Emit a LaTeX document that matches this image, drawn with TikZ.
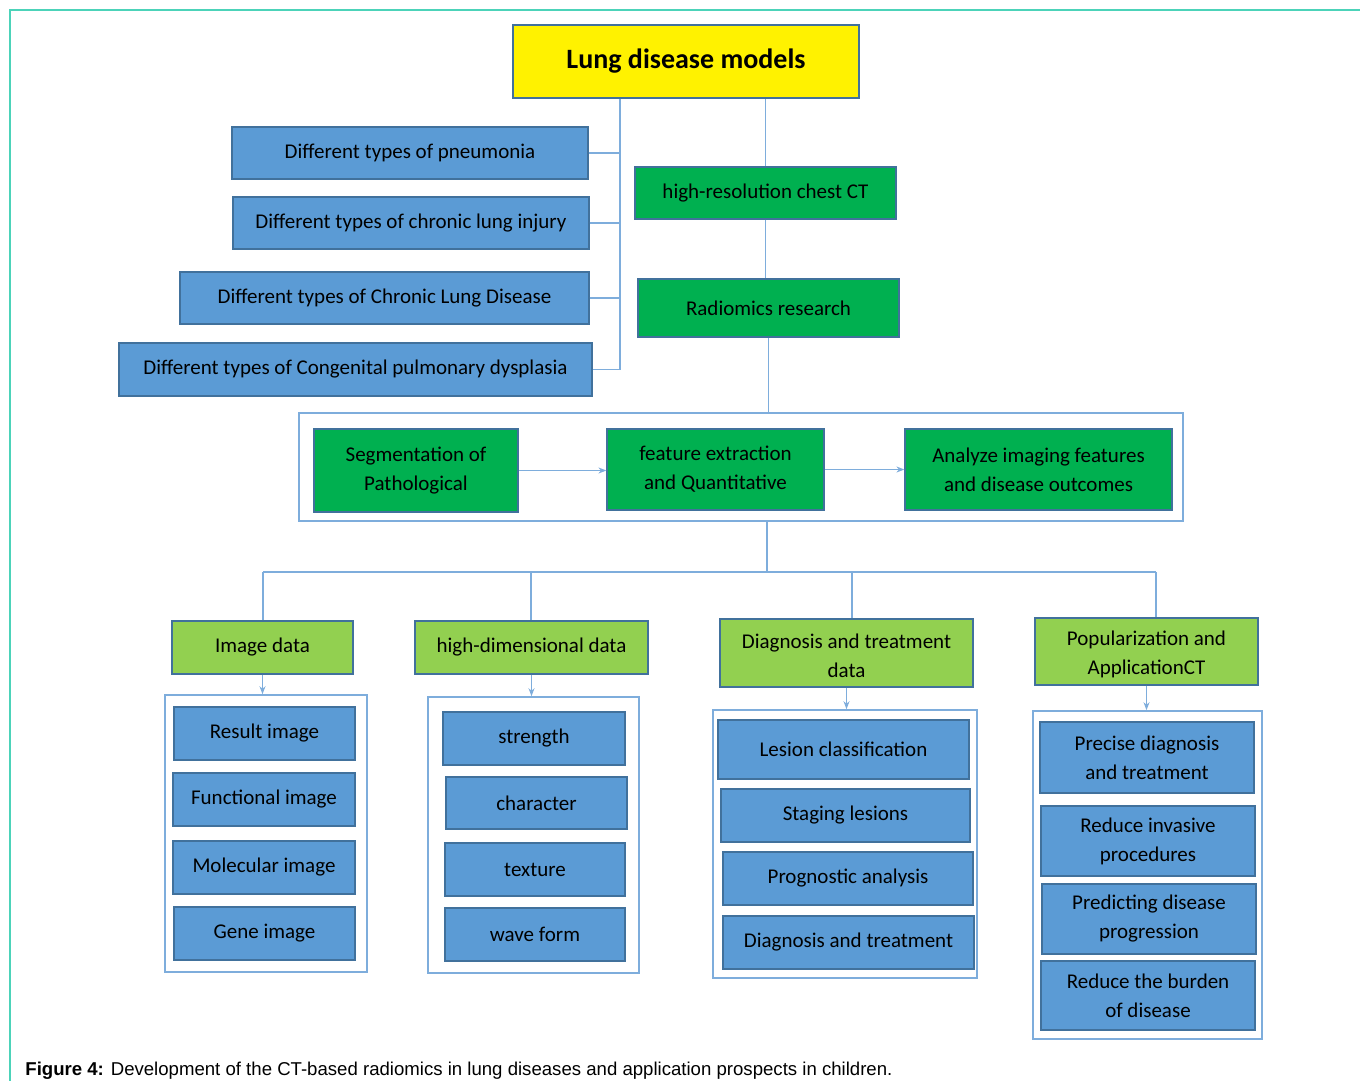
\documentclass[tikz,border=0pt]{standalone}
\usepackage{fontspec}
\setmainfont{Carlito}
\newfontfamily\capfont{Liberation Sans}
\usepackage{tikz}
\usetikzlibrary{calc}
\usetikzlibrary{arrows.meta}

\definecolor{boxblue}{HTML}{5B9BD5}
\definecolor{edgeblue}{HTML}{41719C}
\definecolor{darkgreen}{HTML}{00B050}
\definecolor{lightgreen}{HTML}{92D050}
\definecolor{linkblue}{HTML}{7EADDC}
\definecolor{pagecol}{HTML}{4CD3B9}

\begin{document}
\begin{tikzpicture}[x=0.5pt,y=-0.5pt,
    sz/.style 2 args={minimum width=#1*0.5pt,minimum height=#2*0.5pt},
    base/.style={draw=edgeblue,line width=0.6pt,inner sep=0pt,align=center,
      font=\fontsize{10.5}{14.5}\selectfont},
    blue/.style={base,fill=boxblue},
    green/.style={base,fill=darkgreen},
    lime/.style={base,fill=lightgreen},
    frame/.style={draw=linkblue,line width=0.8pt,fill=white,inner sep=0pt},
    link/.style={draw=linkblue,line width=0.6pt},
    arr/.style={link,-{Stealth[length=4pt,width=3pt]}}]
  % Boundary
  \path[use as bounding box] (0,0) rectangle (1360,1081);
  \draw[pagecol,line width=0.6pt] (10,1081) -- (10,10) -- (1360,10);
  % Top
  \node[base,fill=yellow,sz={346}{73},font=\bfseries\fontsize{14}{16}\selectfont] (title) at (686,61.5) {Lung disease models};
  \node[blue,sz={356}{52}] (pneu) at (410,153) {Different types of pneumonia};
  \node[blue,sz={356}{52}] (injury) at (411,223) {Different types of chronic lung injury};
  \node[blue,sz={409}{52}] (cld) at (384.5,298) {Different types of Chronic Lung Disease};
  \node[blue,sz={473}{53}] (cong) at (355.5,369.5) {Different types of Congenital pulmonary dysplasia};
  \node[green,sz={261}{52}] (hrct) at (765.5,193) {high-resolution chest CT};
  \node[green,sz={261}{58}] (radio) at (768.5,308) {Radiomics research};
  % Bracket
  \coordinate (brk) at (620,0);
  \draw[link] (title.south -| brk) -- (cong.east -| brk);
  \foreach \n in {pneu,injury,cld,cong}
    \draw[link] (\n.east) -- (\n.east -| brk);
  \draw[link] (hrct.north) -- (hrct.north |- title.south);
  \draw[link] (hrct.south) -- (hrct.south |- radio.north);
  % Workflow
  \node[frame,sz={884}{108}] (grp) at (741,467) {};
  \node[green,sz={204}{83}] (seg) at (416,470.5) {Segmentation of\\Pathological};
  \node[green,sz={217}{81}] (feat) at (715.5,469.5) {feature extraction\\and Quantitative};
  \node[green,sz={267}{81}] (anl) at (1038.5,469.5) {Analyze imaging features\\and disease outcomes};
  \draw[arr] (seg.east) -- (feat.west |- seg.east);
  \draw[arr] (feat.east) -- (anl.west |- feat.east);
  \draw[link] (radio.south) -- (radio.south |- grp.north);
  % Bus
  \coordinate (bus) at (767,572);
  \draw[link] (bus |- grp.south) -- (bus);
  \node[lime,sz={181}{53}] (img) at (262.5,647.5) {Image data};
  \node[lime,sz={233}{53}] (hd) at (531.5,647.5) {high-dimensional data};
  \node[lime,sz={253}{68}] (diag) at (846.5,653) {\\[-4pt]Diagnosis and treatment\\data};
  \node[lime,sz={223}{67}] (pop) at (1146.5,651.5) {\\[-4pt]Popularization and\\ApplicationCT};
  \coordinate (d1) at (263,572);
  \coordinate (d2) at (531,572);
  \coordinate (d3) at (852,572);
  \coordinate (d4) at (1156,572);
  \draw[link] (d1) -- (d4);
  \draw[link] (d1) -- (d1 |- img.north);
  \draw[link] (d2) -- (d2 |- hd.north);
  \draw[link] (d3) -- (d3 |- diag.north);
  \draw[link] (d4) -- (d4 |- pop.north);
  % Columns
  \node[frame,sz={202}{277}] (f1) at (266,833.5) {};
  \node[frame,sz={211}{276}] (f2) at (533.5,835) {};
  \node[frame,sz={264}{268}] (f3) at (845,844) {};
  \node[frame,sz={229}{328}] (f4) at (1147.5,875) {};
  \draw[arr] (img.south) -- (img.south |- f1.north);
  \draw[arr] (hd.south) -- (hd.south |- f2.north);
  \draw[arr] (diag.south) -- (diag.south |- f3.north);
  \draw[arr] (pop.south) -- (pop.south |- f4.north);
  \node[blue,sz={181}{53}] (res) at (264.5,733.5) {Result image};
  \node[blue,sz={182}{53}] (fun) at (264,799.5) {Functional image};
  \node[blue,sz={182}{53}] (mol) at (264,867.5) {Molecular image};
  \node[blue,sz={181}{53}] (gene) at (264.5,933.5) {Gene image};
  \node[blue,sz={182}{53}] (str) at (534,738.5) {strength};
  \node[blue,sz={181}{52}] (chr) at (536.5,803) {character};
  \node[blue,sz={180}{53}] (tex) at (535,869.5) {texture};
  \node[blue,sz={180}{53}] (wav) at (535,934.5) {wave form};
  \node[blue,sz={251}{59}] (les) at (843.5,749.5) {Lesion classification};
  \node[blue,sz={249}{53}] (stg) at (845.5,815.5) {Staging lesions};
  \node[blue,sz={250}{53}] (prog) at (848,878.5) {Prognostic analysis};
  \node[blue,sz={251}{53}] (dt) at (848.5,942.5) {Diagnosis and treatment};
  \node[blue,sz={214}{71}] (pre) at (1147,757.5) {Precise diagnosis\\and treatment};
  \node[blue,sz={214}{70}] (inv) at (1148,841) {Reduce invasive\\procedures};
  \node[blue,sz={214}{70}] (pred) at (1149,919) {Predicting disease\\progression};
  \node[blue,sz={214}{69}] (bur) at (1148,995.5) {Reduce the burden\\of disease};
  % Caption
  \node[anchor=base west,inner sep=0pt,font=\capfont\fontsize{9.3}{11}\selectfont] (cap) at (25,1075)
    {\textbf{Figure 4:} Development of the CT-based radiomics in lung diseases and application prospects in children.};
\end{tikzpicture}
\end{document}
